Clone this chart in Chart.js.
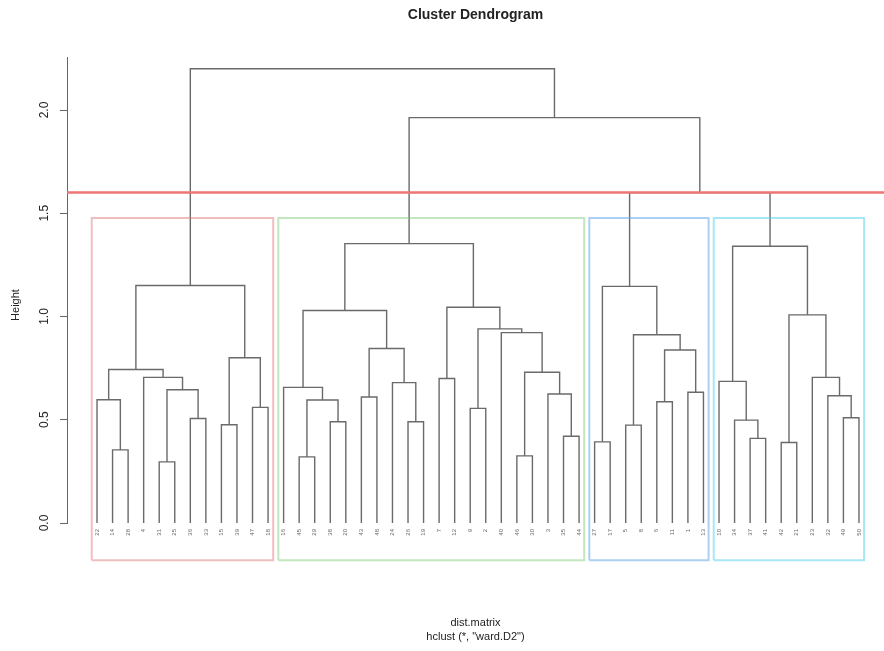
<!DOCTYPE html>
<html>
<head>
<meta charset="utf-8">
<title>Cluster Dendrogram</title>
<script src="https://cdn.jsdelivr.net/npm/chart.js@4.4.1/dist/chart.umd.min.js"></script>
<style>
  html, body { margin: 0; padding: 0; background: #fff; }
  canvas { display: block; }
</style>
</head>
<body>
<canvas id="dendro" width="884" height="651"></canvas>
<script>
// ---------------------------
// 1. Data
// ---------------------------
// leaf labels, in the order they appear left to right
const leafLabels = [
  '22', '14', '28', '4', '31', '25', '36', '33', '15', '39', '47', '18',
  '16', '45', '29', '38', '20', '43', '48', '24', '26', '19', '7', '12', '9', '2', '40', '46', '30', '3', '35', '44',
  '27', '17', '5', '8', '6', '11', '1', '13',
  '10', '34', '37', '41', '42', '21', '23', '32', '49', '50'
];

// merge table, like R's hclust$merge + height:
// negative = leaf (position in leafLabels, 1-based), positive = earlier merge row
const merges = [
  [-2, -3, 0.354], [-5, -6, 0.296], [-7, -8, 0.506], [-9, -10, 0.476], [-11, -12, 0.56],
  [-1, 1, 0.597], [2, 3, 0.645], [-4, 7, 0.705], [6, 8, 0.743], [4, 5, 0.80], [9, 10, 1.15],
  [-14, -15, 0.32], [-16, -17, 0.49], [12, 13, 0.596], [-13, 14, 0.657], [-18, -19, 0.61],
  [-21, -22, 0.49], [-20, 17, 0.68], [16, 18, 0.845], [15, 19, 1.029], [-23, -24, 0.70],
  [-25, -26, 0.555], [-28, -29, 0.325], [-31, -32, 0.42], [-30, 24, 0.625], [23, 25, 0.73],
  [-27, 26, 0.922], [22, 27, 0.94], [21, 28, 1.045], [20, 29, 1.353],
  [-33, -34, 0.393], [-35, -36, 0.474], [-37, -38, 0.587], [-39, -40, 0.633], [33, 34, 0.838],
  [32, 35, 0.912], [31, 36, 1.146],
  [-43, -44, 0.41], [-42, 38, 0.498], [-41, 39, 0.686], [-45, -46, 0.39], [-49, -50, 0.51],
  [-48, 42, 0.616], [-47, 43, 0.705], [41, 44, 1.008], [40, 45, 1.34],
  [37, 46, 1.6], [30, 47, 1.963], [11, 48, 2.20]
];

// rect.hclust(k = 4) groups and the abline cut
const clusterSizes = [12, 20, 8, 10];
const clusterColors = ['rgba(225,110,110,0.45)', 'rgba(120,200,110,0.45)', 'rgba(90,160,230,0.5)', 'rgba(80,205,235,0.5)'];
const cutHeight = 1.6;
const yTicks = [0, 0.5, 1.0, 1.5, 2.0];
const rectBottom = -0.18;

// ---------------------------
// 2. Build the line segments
// ---------------------------
const datasets = [];
const nodeX = [];
const nodeH = [];

function nodePos(ref) {
  if (ref < 0) return { x: -ref, h: 0 };
  return { x: nodeX[ref - 1], h: nodeH[ref - 1] };
}

merges.forEach(([a, b, h], i) => {
  const l = nodePos(a), r = nodePos(b);
  nodeX[i] = (l.x + r.x) / 2;
  nodeH[i] = h;
  datasets.push({
    data: [{ x: l.x, y: l.h }, { x: l.x, y: h }, { x: r.x, y: h }, { x: r.x, y: r.h }],
    borderColor: '#6a6a6a',
    borderWidth: 1.4,
    order: 2
  });
});

// boxes: top = mean of the (k-1)th and kth highest merge
const sortedH = nodeH.slice().sort((p, q) => q - p);
const k = clusterSizes.length;
const rectTop = (sortedH[k - 2] + sortedH[k - 1]) / 2;
let start = 0;
clusterSizes.forEach((size, i) => {
  const left = start + 0.66, right = start + size + 0.33;
  datasets.push({
    data: [{ x: left, y: rectBottom }, { x: left, y: rectTop }, { x: right, y: rectTop },
           { x: right, y: rectBottom }, { x: left, y: rectBottom }],
    borderColor: clusterColors[i],
    borderWidth: 2,
    order: 1
  });
  start += size;
});

const nLeaves = leafLabels.length;
const xMin = 1 - 1.93, xMax = nLeaves + 1.61;

datasets.push({
  data: [{ x: xMin, y: cutHeight }, { x: xMax, y: cutHeight }],
  borderColor: '#ee7575',
  borderWidth: 2.5,
  order: 0
});

datasets.forEach(d => {
  d.showLine = true;
  d.pointRadius = 0;
  d.fill = false;
  d.clip = false;
});

// ---------------------------
// 3. Texts (R style)
// ---------------------------
const rTexts = {
  id: 'rTexts',
  afterDraw(chart) {
    const { ctx, scales: { x, y } } = chart;
    ctx.save();
    ctx.fillStyle = '#222';

    // y tick labels, rotated
    ctx.font = '12px "Liberation Sans", Arial, sans-serif';
    ctx.textAlign = 'center';
    ctx.textBaseline = 'middle';
    yTicks.forEach(v => {
      ctx.save();
      ctx.translate(45, y.getPixelForValue(v));
      ctx.rotate(-Math.PI / 2);
      ctx.fillText(v.toFixed(1), 0, 0);
      ctx.restore();
    });

    // axis title
    ctx.font = '11px "Liberation Sans", Arial, sans-serif';
    ctx.save();
    ctx.translate(16, 305);
    ctx.rotate(-Math.PI / 2);
    ctx.fillText('Height', 0, 0);
    ctx.restore();

    // leaf labels
    ctx.fillStyle = '#666';
    ctx.font = '6px "Liberation Sans", Arial, sans-serif';
    ctx.textAlign = 'right';
    leafLabels.forEach((lab, i) => {
      ctx.save();
      ctx.translate(x.getPixelForValue(i + 1), y.getPixelForValue(0) + 6);
      ctx.rotate(-Math.PI / 2);
      ctx.fillText(lab, 0, 0);
      ctx.restore();
    });

    // main title and sub titles
    const cx = (chart.chartArea.left + chart.chartArea.right) / 2;
    ctx.fillStyle = '#222';
    ctx.textAlign = 'center';
    ctx.font = 'bold 14px "Liberation Sans", Arial, sans-serif';
    ctx.fillText('Cluster Dendrogram', cx, 15);
    ctx.font = '11px "Liberation Sans", Arial, sans-serif';
    ctx.fillText('dist.matrix', cx, 623);
    ctx.fillText('hclust (*, "ward.D2")', cx, 637);
    ctx.restore();
  }
};

// ---------------------------
// 4. Chart
// ---------------------------
new Chart(document.getElementById('dendro'), {
  type: 'scatter',
  data: { datasets: datasets },
  options: {
    responsive: false,
    animation: false,
    layout: { padding: { top: 57, bottom: 128, left: 0, right: 0 } },
    scales: {
      x: { type: 'linear', min: xMin, max: xMax, display: false },
      y: {
        type: 'linear',
        min: 0,
        max: 2.2567,
        afterFit: s => { s.width = 67; },
        afterBuildTicks: s => { s.ticks = yTicks.map(v => ({ value: v })); },
        border: { color: '#666', width: 1 },
        grid: { drawOnChartArea: false, drawTicks: true, tickLength: 7, color: '#666' },
        ticks: { display: false }
      }
    },
    plugins: {
      legend: { display: false },
      tooltip: { enabled: false }
    }
  },
  plugins: [rTexts]
});
</script>
</body>
</html>
